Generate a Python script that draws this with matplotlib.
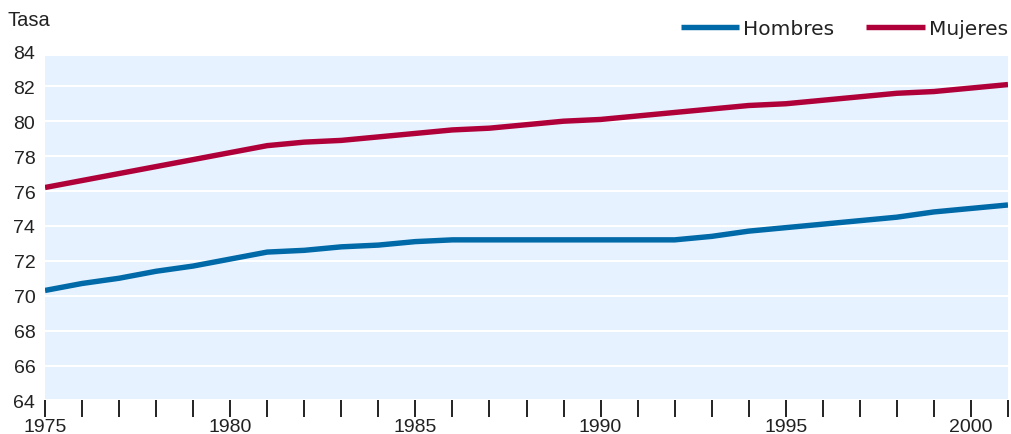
import matplotlib
matplotlib.use("Agg")
import matplotlib.pyplot as plt
from matplotlib.patches import Rectangle
from matplotlib.ticker import MultipleLocator

years = list(range(1975, 2002))
hombres = [70.3, 70.7, 71.0, 71.4, 71.7, 72.1, 72.5, 72.6, 72.8, 72.9, 73.1,
           73.2, 73.2, 73.2, 73.2, 73.2, 73.2, 73.2, 73.4, 73.7, 73.9, 74.1,
           74.3, 74.5, 74.8, 75.0, 75.2]
mujeres = [76.2, 76.6, 77.0, 77.4, 77.8, 78.2, 78.6, 78.8, 78.9, 79.1, 79.3,
           79.5, 79.6, 79.8, 80.0, 80.1, 80.3, 80.5, 80.7, 80.9, 81.0, 81.2,
           81.4, 81.6, 81.7, 81.9, 82.1]

BLUE = "#0069a8"
RED = "#b0003a"
BG = "#e6f2ff"
TXT = "#222222"

plt.rcParams["font.family"] = ["Liberation Sans", "DejaVu Sans"]

fig = plt.figure(figsize=(10.12, 4.35), dpi=100)
ax = fig.add_axes([45 / 1012, 33.6 / 435, 963 / 1012, 349 / 435])
ax.set_facecolor("none")
ax.set_xlim(1975, 2001)
ax.set_ylim(64, 84)

# light blue plot area stops a little below the 84 line
ax.add_patch(Rectangle((1975, 64), 26, 19.73, facecolor=BG, edgecolor="none", zorder=0))

ax.plot(years, hombres, color=BLUE, lw=3.9, solid_capstyle="butt", label="Hombres", zorder=3)
ax.plot(years, mujeres, color=RED, lw=3.9, solid_capstyle="butt", label="Mujeres", zorder=3)

ax.yaxis.set_major_locator(MultipleLocator(2))
ax.xaxis.set_major_locator(MultipleLocator(5))
ax.xaxis.set_minor_locator(MultipleLocator(1))
ax.grid(axis="y", color="white", lw=1.5, zorder=1)
ax.set_axisbelow(False)
for s in ax.spines.values():
    s.set_visible(False)

ax.tick_params(axis="y", length=0, pad=7, labelsize=14, labelcolor=TXT)
ax.tick_params(axis="x", which="both", length=12, width=1.3, color="#111111",
               direction="out", labelsize=14, labelcolor=TXT, pad=1)

fig.text(8 / 1012, 1 - 20 / 435, "Tasa", fontsize=14.5, va="center", color=TXT)

leg = ax.legend(loc="center right", bbox_to_anchor=(1.0, 1 + 23 / 349), ncol=2, frameon=False,
                prop={"family": "DejaVu Sans", "size": 14.5},
                handlelength=2.9, handletextpad=0.2, columnspacing=1.6,
                borderaxespad=0.0, borderpad=0.0)
for t in leg.get_texts():
    t.set_color(TXT)

fig.savefig("out.png", dpi=100, facecolor="white")
